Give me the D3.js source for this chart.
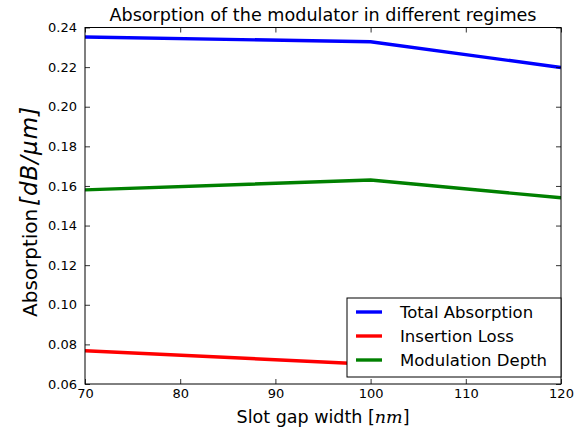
<!DOCTYPE html>
<html><head><meta charset="utf-8">
<script src="https://cdn.jsdelivr.net/npm/d3@7"></script>
<style>body{margin:0;background:#fff}svg{display:block}text{font-family:"DejaVu Sans",sans-serif}</style>
</head><body><div id="c"></div>
<script>
const xValues = [70, 100, 120];
const totalAbsorption = [0.2352, 0.2328, 0.2198];
const insertionLoss = [0.0768, 0.0700, 0.0660];
const modulationDepth = [0.1580, 0.1630, 0.1540];
const seriesNames = ["Total Absorption", "Insertion Loss", "Modulation Depth"];
const seriesColors = ["#0000ff", "#ff0000", "#008000"];
const xTicks = [70, 80, 90, 100, 110, 120];
const yTicks = [0.06, 0.08, 0.10, 0.12, 0.14, 0.16, 0.18, 0.20, 0.22, 0.24];

const W = 581, H = 429;
const m = {l: 85, r: 20, t: 27.5, b: 45};
const svg = d3.select("#c").append("svg").attr("width", W).attr("height", H);
const x = d3.scaleLinear().domain([70, 120]).range([m.l, W - m.r]);
const y = d3.scaleLinear().domain([0.06, 0.24]).range([H - m.b, m.t]);
const pw = W - m.r - m.l, ph = H - m.b - m.t;

const series = [totalAbsorption, insertionLoss, modulationDepth];
const line = d3.line().x((d, i) => x(xValues[i])).y(d => y(d));
const g = svg.append("g");
g.append("defs").append("clipPath").attr("id", "clip").append("rect")
  .attr("x", m.l).attr("y", m.t).attr("width", pw).attr("height", ph);
series.forEach((s, k) => {
  g.append("path").datum(s).attr("d", line).attr("fill", "none")
    .attr("stroke", seriesColors[k]).attr("stroke-width", 3.4).attr("clip-path", "url(#clip)");
});

// axes with inside ticks
const fmtY = d3.format(".2f");
const axB = d3.axisBottom(x).tickValues(xTicks).tickSize(-5).tickPadding(4.5).tickFormat(d3.format("d"));
const axT = d3.axisTop(x).tickValues(xTicks).tickSize(-5).tickFormat("");
const axL = d3.axisLeft(y).tickValues(yTicks).tickSize(-5).tickPadding(8).tickFormat(fmtY);
const axR = d3.axisRight(y).tickValues(yTicks).tickSize(-5).tickFormat("");
function style(sel) {
  sel.select(".domain").remove();
  sel.selectAll("line").attr("stroke", "#000").attr("stroke-width", 0.8);
  sel.selectAll("text").attr("font-size", 13).attr("fill", "#000").attr("font-family", "DejaVu Sans");
}
svg.append("g").attr("transform", `translate(0,${H - m.b})`).call(axB).call(style);
svg.append("g").attr("transform", `translate(0,${m.t})`).call(axT).call(style);
svg.append("g").attr("transform", `translate(${m.l},0)`).call(axL).call(style);
svg.append("g").attr("transform", `translate(${W - m.r},0)`).call(axR).call(style);
svg.append("rect").attr("x", m.l).attr("y", m.t).attr("width", pw).attr("height", ph)
  .attr("fill", "none").attr("stroke", "#000").attr("stroke-width", 1);

// title
svg.append("text").attr("x", m.l + pw / 2).attr("y", 21).attr("text-anchor", "middle")
  .attr("font-size", 17.6).text("Absorption of the modulator in different regimes");

// x label
const xl = svg.append("text").attr("x", m.l + pw / 2).attr("y", 423).attr("text-anchor", "middle").attr("font-size", 17.5);
xl.append("tspan").text("Slot gap width [");
xl.append("tspan").attr("font-family", "DejaVu Serif").attr("font-style", "italic").text("nm");
xl.append("tspan").text("]");

// y label
svg.append("text").attr("transform", `translate(37,317) rotate(-90)`)
  .attr("text-anchor", "start").attr("font-size", 20).text("Absorption");
svg.append("text").attr("transform", `translate(37,206) rotate(-90)`)
  .attr("text-anchor", "start").attr("font-size", 23)
  .attr("font-family", "DejaVu Serif").attr("font-style", "italic")
  .attr("letter-spacing", 1).text("[dB/μm]");

// legend
const lg = svg.append("g");
const lx = 347, ly = 298, lw = W - m.r - lx, lh = 79;
lg.append("rect").attr("x", lx).attr("y", ly).attr("width", lw).attr("height", lh)
  .attr("fill", "#fff").attr("stroke", "#000").attr("stroke-width", 1);
seriesNames.forEach((n, k) => {
  const yy = ly + 14 + k * 24;
  lg.append("line").attr("x1", lx + 9).attr("x2", lx + 35).attr("y1", yy).attr("y2", yy)
    .attr("stroke", seriesColors[k]).attr("stroke-width", 3.4);
  lg.append("text").attr("x", lx + 53).attr("y", yy + 6).attr("font-size", 16.5).text(n);
});
</script></body></html>
